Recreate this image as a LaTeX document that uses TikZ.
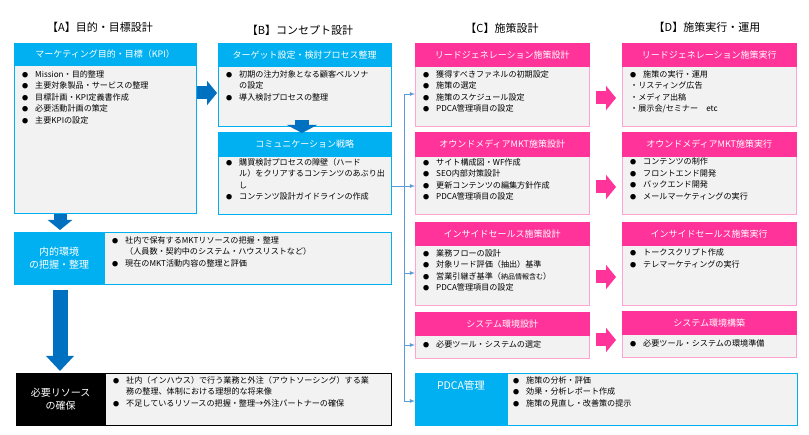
\documentclass[tikz,border=0pt]{standalone}
\usepackage{fontspec}
\setmainfont{Noto Sans CJK JP}
\usetikzlibrary{arrows.meta}
\definecolor{hdblue}{HTML}{00B0F0}
\definecolor{hdpink}{HTML}{FF3399}
\definecolor{bodygray}{HTML}{F2F2F2}
\definecolor{arrblue}{HTML}{0070C0}
\definecolor{lineblue}{HTML}{5B9BD5}
\newcommand{\bul}{\makebox[13pt][l]{\scalebox{0.75}{●}}}
\newcommand{\ind}{\hspace*{13pt}}
\tikzset{
  ttl/.style={font=\fontsize{11}{13}\selectfont},
  head/.style={anchor=north west,draw=#1,fill=#1,text=white,inner sep=0pt,
    font=\fontsize{9}{11}\selectfont},
  body/.style={anchor=north west,draw=#1,fill=bodygray,line width=0.8pt,inner sep=0pt},
  lst/.style={anchor=north west,align=left,inner sep=0pt,
    font=\fontsize{8.1}{11.5}\selectfont},
  fat/.style={#1,line width=13pt,-{Triangle[width=24pt,length=10pt]}},
  cnx/.style={lineblue,-latex,thick}
}
\begin{document}
\begin{tikzpicture}[x=1pt,y=-1pt]
  \useasboundingbox (0,0) rectangle (809,435);
  % column titles
  \node[ttl] (tA) at (100,27) {【A】目的・目標設計};
  \node[ttl] (tB) at (300,30) {【B】コンセプト設計};
  \node[ttl] (tC) at (502,28) {【C】施策設計};
  \node[ttl] (tD) at (707,27) {【D】施策実行・運用};

  % column A
  \node[body=hdblue,minimum width=182pt,minimum height=170pt] (aBody) at (14,43) {};
  \node[head=hdblue,minimum width=182pt,minimum height=22pt] (aHead) at (14,43) {マーケティング目的・目標（KPI）};
  \node[lst] at (22,70) {\bul Mission・目的整理\\ \bul 主要対象製品・サービスの整理\\ \bul 目標計画・KPI定義書作成\\ \bul 必要活動計画の策定\\ \bul 主要KPIの設定};

  % column B
  \node[body=hdblue,minimum width=173pt,minimum height=83pt] (bBody) at (218,43) {};
  \node[head=hdblue,minimum width=173pt,minimum height=23pt] (bHead) at (218,43) {ターゲット設定・検討プロセス整理};
  \node[lst] at (226,70) {\bul 初期の注力対象となる顧客ペルソナ\\ \ind の設定\\ \bul 導入検討プロセスの整理};
  \node[body=hdblue,minimum width=173pt,minimum height=82pt] (cBody) at (218,132) {};
  \node[head=hdblue,minimum width=173pt,minimum height=24pt] (cHead) at (218,132) {コミュニケーション戦略};
  \node[lst] at (226,158) {\bul 購買検討プロセスの障壁（ハード\\ \ind ル）をクリアするコンテンツのあぶり出\\ \ind し\\ \bul コンテンツ設計ガイドラインの作成};

  % internal environment
  \node[body=hdblue,minimum width=377pt,minimum height=52pt] (iBody) at (14,232) {};
  \node[head=hdblue,minimum width=90pt,minimum height=52pt,align=center,
        font=\fontsize{10}{13}\selectfont] (iHead) at (14,232) {内的環境\\の把握・整理};
  \node[lst] at (112,236) {\bul 社内で保有するMKTリソースの把握・整理\\ \ind （人員数・契約中のシステム・ハウスリストなど）\\ \bul 現在のMKT活動内容の整理と評価};

  % required resources
  \node[body=black,minimum width=375pt,minimum height=52pt] (rBody) at (16,373) {};
  \node[head=black,minimum width=89pt,minimum height=52pt,align=center,
        font=\fontsize{10}{13}\selectfont] (rHead) at (16,373) {必要リソース\\の確保};
  \node[lst] at (113,376) {\bul 社内（インハウス）で行う業務と外注（アウトソーシング）する業\\ \ind 務の整理、体制における理想的な将来像\\ \bul 不足しているリソースの把握・整理→外注パートナーの確保};

  % column C
  \node[body=hdpink!45,minimum width=174pt,minimum height=83pt] (c1Body) at (415,43) {};
  \node[head=hdpink,minimum width=174pt,minimum height=23pt] (c1Head) at (415,43) {リードジェネレーション施策設計};
  \node[lst] at (423,70) {\bul 獲得すべきファネルの初期設定\\ \bul 施策の選定\\ \bul 施策のスケジュール設定\\ \bul PDCA管理項目の設定};
  \node[body=hdpink!45,minimum width=174pt,minimum height=82pt] (c2Body) at (415,132) {};
  \node[head=hdpink,minimum width=174pt,minimum height=24pt] (c2Head) at (415,132) {オウンドメディアMKT施策設計};
  \node[lst] at (423,158) {\bul サイト構成図・WF作成\\ \bul SEO内部対策設計\\ \bul 更新コンテンツの編集方針作成\\ \bul PDCA管理項目の設定};
  \node[body=hdpink!45,minimum width=174pt,minimum height=83pt] (c3Body) at (415,222) {};
  \node[head=hdpink,minimum width=174pt,minimum height=23pt] (c3Head) at (415,222) {インサイドセールス施策設計};
  \node[lst] at (423,249) {\bul 業務フローの設計\\ \bul 対象リード評価（抽出）基準\\ \bul 営業引継ぎ基準（{\fontsize{7}{8}\selectfont 納品情報含む}）\\ \bul PDCA管理項目の設定};
  \node[body=hdpink!45,minimum width=174pt,minimum height=46pt] (c4Body) at (415,312) {};
  \node[head=hdpink,minimum width=174pt,minimum height=23pt] (c4Head) at (415,312) {システム環境設計};
  \node[lst] at (423,340) {\bul 必要ツール・システムの選定};

  % PDCA
  \node[body=hdblue,minimum width=382pt,minimum height=52pt] (pBody) at (415,373) {};
  \node[head=hdblue,minimum width=92pt,minimum height=52pt] (pHead) at (415,373) {};
  \node[text=white,font=\fontsize{10.5}{12}\selectfont] (pText) at (461,385) {PDCA管理};
  \node[lst] at (513,376) {\bul 施策の分析・評価\\ \bul 効果・分析レポート作成\\ \bul 施策の見直し・改善策の提示};

  % column D
  \node[body=hdpink!45,minimum width=174pt,minimum height=83pt] (d1Body) at (622,43) {};
  \node[head=hdpink,minimum width=174pt,minimum height=23pt] (d1Head) at (622,43) {リードジェネレーション施策実行};
  \node[lst] at (630,70) {\bul 施策の実行・運用\\ ・リスティング広告\\ ・メディア出稿\\ ・展示会/セミナー\quad etc};
  \node[body=hdpink!45,minimum width=174pt,minimum height=82pt] (d2Body) at (622,132) {};
  \node[head=hdpink,minimum width=174pt,minimum height=24pt] (d2Head) at (622,132) {オウンドメディアMKT施策実行};
  \node[lst] at (630,158) {\bul コンテンツの制作\\ \bul フロントエンド開発\\ \bul バックエンド開発\\ \bul メールマーケティングの実行};
  \node[body=hdpink!45,minimum width=174pt,minimum height=83pt] (d3Body) at (622,222) {};
  \node[head=hdpink,minimum width=174pt,minimum height=23pt] (d3Head) at (622,222) {インサイドセールス施策実行};
  \node[lst] at (630,249) {\bul トークスクリプト作成\\ \bul テレマーケティングの実行};
  \node[body=hdpink!45,minimum width=174pt,minimum height=46pt] (d4Body) at (622,311) {};
  \node[head=hdpink,minimum width=174pt,minimum height=23pt] (d4Head) at (622,311) {システム環境構築};
  \node[lst] at (630,339) {\bul 必要ツール・システムの環境準備};

  % block arrows
  \draw[fat=arrblue] (197,93) -- (217,93);
  \draw[fat=arrblue,line width=14pt,-{Triangle[width=30pt,length=8pt]}] (302,120) -- (302,133);
  \draw[fat=arrblue] (60,214) -- (60,230);
  \draw[fat=arrblue,line width=15pt,-{Triangle[width=27pt,length=15pt]}] (60,290) -- (60,371);
  \foreach \y in {98,187,277,340}
    \draw[fat=hdpink] (596,\y) -- (616,\y);

  % connector to column C
  \coordinate (tap) at (404,186);
  \draw[lineblue,thick] (cBody.east |- tap) -- (tap);
  \draw[lineblue,thick] (404,94) -- (404,401);
  \foreach \y in {94,186,273,345,401}
    \draw[cnx] (404,\y) -- (415,\y);
\end{tikzpicture}
\end{document}
